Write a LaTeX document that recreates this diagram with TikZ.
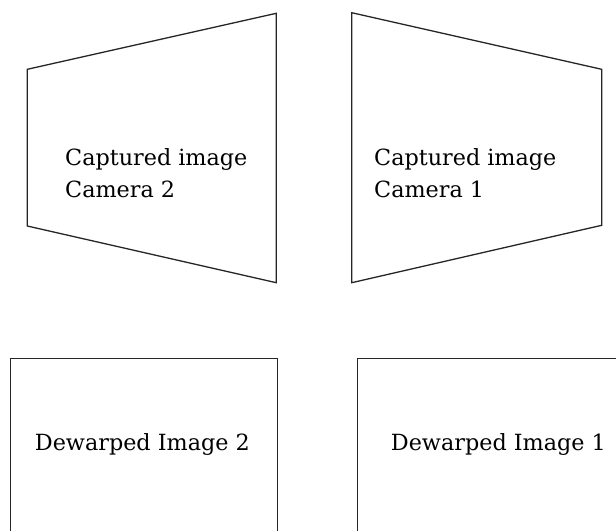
\documentclass[tikz,border=0pt]{standalone}
\usepackage{fontspec}
\setmainfont{DejaVu Serif}
\begin{document}
\begin{tikzpicture}[x=1pt,y=-1pt,
  frame/.style={draw=black!85,line width=1.3pt,line join=miter},
  lbl/.style={anchor=base west,inner sep=0pt,font=\fontsize{22.3}{32}\selectfont,text=black}]
\useasboundingbox (0,0) rectangle (616,531);
% captured image camera 2
\draw[frame] (27.3,69.3) -- (276.3,13.3) -- (276.3,282.7) -- (27.3,226) -- cycle;
\node[lbl] (c2a) at (65,165) {Captured image};
\node[lbl] (c2b) at (65,197) {Camera 2};
% captured image camera 1
\draw[frame] (351.7,12.7) -- (601.7,69.3) -- (601.7,225.3) -- (351.7,282.7) -- cycle;
\node[lbl] (c1a) at (374,165) {Captured image};
\node[lbl] (c1b) at (374,197) {Camera 1};
% dewarped images
\draw[frame] (10.7,531) -- (10.7,358.3) -- (277.7,358.3) -- (277.7,531);
\node[lbl] (d2) at (34.7,450) {Dewarped Image 2};
\draw[frame] (357.7,531) -- (357.7,358.3) -- (616,358.3);
\node[lbl] (d1) at (390.7,450) {Dewarped Image 1};
\end{tikzpicture}
\end{document}
